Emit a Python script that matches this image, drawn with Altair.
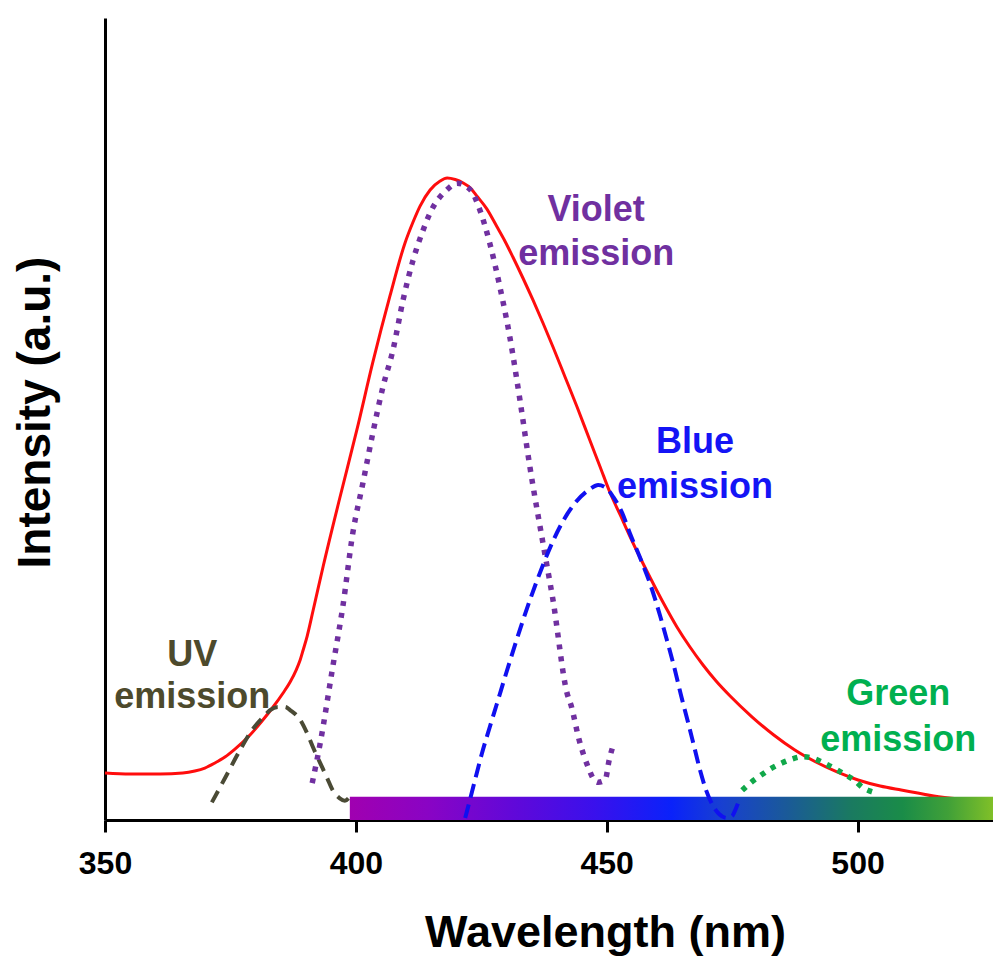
import altair as alt
import pandas as pd

# Measured emission spectrum (red) and fitted Gaussian components
total_nm = [350.0, 355.0, 361.0, 365.5, 367.9, 369.9, 371.9, 373.9, 375.9, 378.9,
            381.3, 383.5, 385.5, 386.9, 388.1, 388.9, 389.5, 390.3, 391.5, 393.5,
            396.8, 400.2, 403.4, 406.8, 409.8, 411.4, 412.8, 414.8, 416.8, 418.2,
            419.8, 421.4, 422.8, 424.1, 426.1, 428.1, 429.7, 431.3, 433.3, 435.3,
            437.3, 439.3, 441.7, 444.1, 446.7, 448.7, 450.7, 452.7, 454.6, 456.6,
            458.6, 461.2, 464.0, 466.6, 469.2, 471.8, 474.6, 479.0, 483.3, 487.5,
            491.7, 495.9, 500.1, 504.5, 508.7, 512.0, 515.2, 520.4, 527.0]
total_int = [5.86, 5.74, 5.74, 5.86, 6.11, 6.48, 7.11, 7.86, 8.85, 10.60,
             12.34, 14.09, 15.84, 17.21, 18.70, 19.95, 21.20, 22.94, 26.18, 31.67,
             40.15, 48.63, 57.11, 65.34, 71.95, 74.56, 76.55, 78.55, 79.67, 80.05,
             79.86, 79.43, 78.82, 77.82, 76.20, 74.00, 72.20, 70.20, 67.58, 64.84,
             61.97, 58.98, 55.24, 51.49, 47.25, 44.02, 40.77, 38.03, 35.41, 32.79,
             30.30, 27.18, 24.07, 21.57, 19.33, 17.33, 15.46, 12.84, 10.60, 8.73,
             7.23, 5.99, 4.99, 4.24, 3.74, 3.37, 2.99, 2.62, 2.37]

uv_nm = [371.3, 373.9, 376.9, 379.3, 381.5, 382.9, 384.5, 385.9, 386.9, 388.9,
         390.3, 391.5, 392.9, 394.3, 395.4, 396.8, 397.8, 398.8]
uv_int = [2.2, 5.2, 8.7, 11.2, 12.8, 13.7, 14.1, 14.1, 13.7, 12.5,
          10.8, 9.0, 7.1, 5.2, 3.7, 2.7, 2.4, 2.9]

violet_nm = [391.3, 392.9, 395.4, 397.4, 399.4, 401.4, 403.4, 405.4, 407.4, 409.4,
             411.4, 413.2, 414.8, 418.2, 420.2, 422.8, 424.7, 426.7, 428.7, 430.7,
             432.7, 434.7, 437.3, 439.3, 442.1, 442.9, 444.5, 446.3, 447.5, 448.3,
             449.7, 450.5, 451.5]
violet_int = [4.6, 9.6, 19.1, 26.6, 35.8, 42.0, 48.3, 54.0, 58.6, 64.8,
              69.8, 73.2, 75.7, 78.6, 79.4, 78.6, 76.1, 71.9, 66.5, 60.2,
              52.4, 44.0, 34.5, 27.4, 15.8, 14.3, 10.0, 6.6, 5.0, 4.7,
              5.0, 7.5, 9.7]

blue_nm = [421.8, 423.6, 425.1, 426.7, 428.1, 430.1, 432.1, 434.7, 437.3, 439.3,
           441.3, 443.7, 446.7, 448.3, 449.9, 451.3, 453.1, 454.6, 456.6, 458.6,
           460.6, 462.0, 463.6, 464.8, 466.2, 467.4, 468.6, 469.8, 471.2, 472.4,
           474.0, 475.0, 475.8, 476.6]
blue_int = [0.25, 4.61, 8.23, 11.60, 14.46, 18.58, 22.57, 27.43, 31.80, 34.79,
            37.28, 39.53, 41.27, 41.77, 41.40, 40.28, 38.28, 35.79, 32.79, 29.55,
            25.56, 22.44, 18.70, 15.59, 12.22, 9.23, 6.23, 3.74, 1.75, 0.75,
            0.25, 0.50, 1.50, 2.87]

green_nm = [477.0, 478.8, 480.8, 482.7, 484.9, 486.9, 489.1, 491.1, 493.3, 495.5,
            497.7, 499.5, 500.9, 502.5, 503.5]
green_int = [3.7, 4.7, 5.6, 6.4, 7.1, 7.6, 7.9, 7.7, 7.1, 6.4,
             5.6, 4.9, 4.1, 3.6, 3.4]

# Visible-spectrum colour strip along the wavelength axis
strip_start = [398.8]
strip_end = [527.0]
strip_top = [2.9]

# Component labels
label_text = ["UV", "emission", "Violet", "emission", "Blue", "emission", "Green", "emission"]
label_nm = [367.4, 367.4, 447.9, 447.9, 467.6, 467.6, 508.1, 508.1]
label_int = [20.6, 15.3, 76.1, 70.6, 47.1, 41.5, 15.7, 10.0]
label_color = ["#4d4a2c", "#4d4a2c", "#7030a0", "#7030a0",
               "#1414f5", "#1414f5", "#00b050", "#00b050"]

X_DOMAIN = [350, 527]
Y_DOMAIN = [0, 100]
FONT = "Liberation Sans"

x_enc = alt.X(
    "nm:Q",
    scale=alt.Scale(domain=X_DOMAIN, nice=False, zero=False),
    axis=alt.Axis(
        title="Wavelength (nm)",
        values=[350, 400, 450, 500],
        format="d",
        grid=False,
        labelFlush=False,
        domainColor="black", domainWidth=3,
        tickColor="black", tickWidth=3, tickSize=12,
        labelFont=FONT, labelFontWeight="bold", labelFontSize=32,
        labelColor="black", labelPadding=16,
        titleFont=FONT, titleFontWeight="bold", titleFontSize=45,
        titleColor="black", titleX=500, titleY=126,
        titleAlign="center", titleBaseline="alphabetic",
    ),
)
y_enc = alt.Y(
    "val:Q",
    scale=alt.Scale(domain=Y_DOMAIN, nice=False),
    axis=alt.Axis(
        title="Intensity (a.u.)",
        grid=False, ticks=False, labels=False,
        domainColor="black", domainWidth=3,
        titleFont=FONT, titleFontWeight="bold", titleFontSize=46,
        titleColor="black", titleAngle=270, titleX=-56, titleY=394,
        titleAlign="center", titleBaseline="alphabetic",
    ),
)


def curve(nm, vals, **mark):
    df = pd.DataFrame({"nm": nm, "val": vals})
    return alt.Chart(df).mark_line(interpolate="monotone", **mark).encode(x=x_enc, y=y_enc)


total = curve(total_nm, total_int, color="#ff0d0d", strokeWidth=3)

strip_df = pd.DataFrame({"nm": strip_start, "nm2": strip_end, "val": [0.0], "val2": strip_top})
strip_gradient = alt.Gradient(
    gradient="linear", x1=0, y1=0, x2=1, y2=0,
    stops=[
        alt.GradientStop(offset=0.0, color="#a000b0"),
        alt.GradientStop(offset=0.12, color="#8a04c4"),
        alt.GradientStop(offset=0.25, color="#6208d8"),
        alt.GradientStop(offset=0.38, color="#3a10ec"),
        alt.GradientStop(offset=0.50, color="#0a22fa"),
        alt.GradientStop(offset=0.58, color="#1840d0"),
        alt.GradientStop(offset=0.68, color="#1a5a98"),
        alt.GradientStop(offset=0.78, color="#1a7a60"),
        alt.GradientStop(offset=0.86, color="#1a8c48"),
        alt.GradientStop(offset=0.93, color="#40a038"),
        alt.GradientStop(offset=1.0, color="#80c028"),
    ],
)
strip = alt.Chart(strip_df).mark_rect(color=strip_gradient).encode(
    x=x_enc, x2="nm2:Q", y=y_enc, y2="val2:Q"
)

uv = curve(uv_nm, uv_int, color="#4a4a35", strokeWidth=4, strokeDash=[13, 8])
violet = curve(violet_nm, violet_int, color="#7030a0", strokeWidth=5.5,
               strokeDash=[5, 7], strokeCap="butt")
blue = curve(blue_nm, blue_int, color="#1010f0", strokeWidth=4, strokeDash=[14, 7])
green = curve(green_nm, green_int, color="#10a84a", strokeWidth=5.5,
              strokeDash=[5, 7], strokeCap="butt")

labels_df = pd.DataFrame({"nm": label_nm, "val": label_int,
                          "text": label_text, "color": label_color})
labels = alt.Chart(labels_df).mark_text(
    font=FONT, fontWeight="bold", fontSize=36, align="center", baseline="middle"
).encode(x=x_enc, y=y_enc, text="text:N", color=alt.Color("color:N", scale=None))

chart = (
    alt.layer(total, strip, uv, violet, blue, green, labels)
    .properties(
        width=888, height=802,
        autosize=alt.AutoSizeParams(type="none"),
        padding={"left": 105, "top": 18, "right": 0, "bottom": 138},
        background="white",
    )
    .configure_view(stroke=None)
)

chart.save("out.html", embed_options={"renderer": "svg", "actions": False})
